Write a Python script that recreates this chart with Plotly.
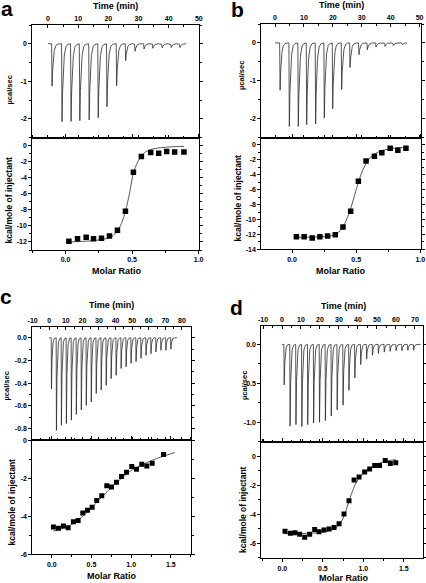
import numpy as np
import plotly.graph_objects as go

W, H = 426, 583

# ---------------- data ----------------
# Panel a
a_inj_time = [1.2, 4.5, 7.5, 10.4, 13.5, 16.5, 19.4, 22.6, 25.6, 28.7, 31.7, 34.6, 37.7, 40.7, 43.6]
a_inj_peak = [-1.13, -2.08, -2.07, -2.05, -2.03, -1.97, -1.68, -1.12, -0.45, -0.2, -0.14, -0.12, -0.11, -0.1, -0.1]
a_ratio = [0.025, 0.09, 0.155, 0.21, 0.27, 0.33, 0.39, 0.45, 0.51, 0.57, 0.64, 0.70, 0.76, 0.82, 0.89]
a_heat = [-11.9, -11.6, -11.4, -11.6, -11.55, -11.25, -10.55, -8.17, -3.33, -1.38, -0.88, -0.96, -0.75, -0.79, -0.79]
a_fit_ratio = [0.02, 0.1, 0.2, 0.3, 0.35, 0.39, 0.42, 0.45, 0.48, 0.51, 0.54, 0.57, 0.6, 0.65, 0.7, 0.8, 0.89]
a_fit_heat = [-12.0, -11.95, -11.85, -11.6, -11.3, -10.6, -9.7, -8.2, -6.0, -3.4, -2.1, -1.3, -0.8, -0.45, -0.3, -0.15, -0.1]

# Panel b
b_inj_time = [1.6, 4.8, 7.9, 10.8, 13.9, 16.9, 19.8, 22.9, 25.8, 28.9, 31.8, 34.8, 37.9, 40.8, 43.9]
b_inj_peak = [-1.25, -2.21, -2.21, -2.16, -2.14, -1.98, -1.74, -1.23, -0.65, -0.31, -0.18, -0.11, -0.09, -0.07, -0.05]
b_ratio = [0.034, 0.094, 0.157, 0.217, 0.277, 0.337, 0.397, 0.457, 0.517, 0.577, 0.642, 0.70, 0.765, 0.825, 0.888]
b_heat = [-12.3, -12.3, -12.48, -12.3, -12.2, -12.04, -11.0, -8.9, -4.86, -2.14, -1.52, -1.03, -0.45, -0.71, -0.45]
b_fit_ratio = [0.02, 0.1, 0.2, 0.3, 0.35, 0.4, 0.45, 0.5, 0.55, 0.6, 0.65, 0.7, 0.8, 0.89]
b_fit_heat = [-12.4, -12.38, -12.35, -12.2, -11.9, -10.9, -8.9, -6.0, -3.4, -1.9, -1.15, -0.75, -0.42, -0.3]

# Panel c
c_inj_time = [1.2, 4.2, 7.2, 10.2, 13.2, 16.2, 19.2, 22.2, 25.2, 28.2, 31.2, 34.2, 37.2,
              40.2, 43.2, 46.2, 49.2, 52.2, 55.2, 58.2, 61.2, 64.2, 67.2, 70.2, 73.2]
c_inj_peak = [-0.45, -0.815, -0.77, -0.755, -0.725, -0.675, -0.635, -0.595, -0.565, -0.49, -0.46, -0.42, -0.36,
              -0.33, -0.27, -0.255, -0.225, -0.21, -0.18, -0.155, -0.14, -0.125, -0.11, -0.11, -0.10]
c_ratio = [0.021, 0.084, 0.147, 0.206, 0.273, 0.332, 0.391, 0.45, 0.508, 0.567, 0.63, 0.693, 0.752, 0.815,
           0.878, 0.941, 1.008, 1.067, 1.134, 1.197, 1.265, 1.408]
c_heat = [-4.57, -4.64, -4.52, -4.61, -4.30, -4.23, -3.83, -3.69, -3.53, -3.18, -2.92, -2.40, -2.47, -2.21,
          -1.91, -1.69, -1.39, -1.53, -1.27, -1.36, -1.22, -0.75]
c_fit_ratio = [0.02, 0.1, 0.2, 0.3, 0.4, 0.5, 0.6, 0.7, 0.8, 0.9, 1.0, 1.1, 1.2, 1.3, 1.4, 1.55]
c_fit_heat = [-4.78, -4.7, -4.55, -4.32, -3.97, -3.57, -3.12, -2.7, -2.3, -1.93, -1.6, -1.38, -1.18, -1.0, -0.85, -0.65]

# Panel d
d_inj_time = [1.0, 4.1, 7.2, 10.3, 13.4, 16.5, 19.6, 22.7, 25.8, 28.9, 32.0, 35.1, 38.2, 41.3, 44.4, 47.5,
              50.6, 53.7, 56.8, 59.9, 63.0, 66.1, 69.2]
d_inj_peak = [-0.52, -1.05, -1.03, -1.055, -1.03, -1.01, -1.0, -0.98, -0.92, -0.84, -0.78, -0.59, -0.43,
              -0.26, -0.19, -0.14, -0.115, -0.10, -0.09, -0.08, -0.08, -0.075, -0.075]
d_ratio = [0.033, 0.099, 0.156, 0.214, 0.276, 0.337, 0.399, 0.453, 0.514, 0.576, 0.638, 0.70, 0.761, 0.823,
           0.885, 0.947, 1.016, 1.078, 1.14, 1.2, 1.27, 1.333, 1.40]
d_heat = [-5.18, -5.32, -5.28, -5.39, -5.60, -5.39, -5.07, -5.21, -5.09, -5.02, -4.93, -4.66, -3.99, -3.07,
          -1.65, -1.44, -1.1, -0.89, -0.64, -0.64, -0.30, -0.50, -0.46]
d_fit_ratio = [0.03, 0.15, 0.3, 0.45, 0.6, 0.68, 0.74, 0.78, 0.82, 0.86, 0.9, 0.95, 1.0, 1.1, 1.2, 1.3, 1.4]
d_fit_heat = [-5.35, -5.35, -5.33, -5.28, -5.12, -4.88, -4.4, -3.85, -3.15, -2.5, -1.95, -1.5, -1.17, -0.75, -0.47, -0.32, -0.24]

# tick labels
ab_time_ticks = [0, 10, 20, 30, 40, 50]
c_time_ticks = [-10, 0, 10, 20, 30, 40, 50, 60, 70, 80]
d_time_ticks = [-10, 0, 10, 20, 30, 40, 50, 60, 70]
ab_ratio_ticks = [0.0, 0.5, 1.0]
cd_ratio_ticks = [0.0, 0.5, 1.0, 1.5]

# ---------------- layout config ----------------
panels = [
    dict(letter='a', t=a_inj_time, p=a_inj_peak, t_end=45.8, r=a_ratio, h=a_heat, fr=a_fit_ratio, fh=a_fit_heat,
         x=(32.3, 199.0), ytop=(25.0, 137.5), ybot=(137.5, 250.0),
         trange=[-5.2, 50.05], tticks=ab_time_ticks, rawrange=[-2.5, 0.5], rawticks=[0, -1, -2], rawfmt='{:.0f}', rawminor=0.5,
         mrange=[-0.25, 1.003], mticks=ab_ratio_ticks, hrange=[-13, 1], hticks=[0, -2, -4, -6, -8, -10, -12], hminor=1,
         letter_xy=(7, 8), time_xy=(115.6, 6), ucal_xy=(8.5, 90), kcal_xy=(8.5, 200), molar_xy=(116.7, 271), msize=5.5),
    dict(letter='b', t=b_inj_time, p=b_inj_peak, t_end=45.7, r=b_ratio, h=b_heat, fr=b_fit_ratio, fh=b_fit_heat,
         x=(261.3, 420.7), ytop=(24.0, 137.5), ybot=(137.5, 249.3),
         trange=[-4.75, 50.4], tticks=ab_time_ticks, rawrange=[-2.5, 0.5], rawticks=[0, -1, -2], rawfmt='{:.0f}', rawminor=0.5,
         mrange=[-0.24, 1.003], mticks=ab_ratio_ticks, hrange=[-14, 1], hticks=[0, -2, -4, -6, -8, -10, -12, -14], hminor=1,
         letter_xy=(237, 9), time_xy=(341, 5), ucal_xy=(241, 75), kcal_xy=(237.5, 198), molar_xy=(341, 271), msize=5.5),
    dict(letter='c', t=c_inj_time, p=c_inj_peak, t_end=77.0, r=c_ratio, h=c_heat, fr=c_fit_ratio, fh=c_fit_heat,
         x=(32.3, 190.7), ytop=(327.0, 440.0), ybot=(440.0, 554.3),
         trange=[-10.2, 85.3], tticks=c_time_ticks, rawrange=[-0.9, 0.095], rawticks=[0.0, -0.2, -0.4, -0.6, -0.8], rawfmt='{:.1f}', rawminor=0.1,
         mrange=[-0.245, 1.75], mticks=cd_ratio_ticks, hrange=[-6.01, 0.01], hticks=[0, -2, -4, -6], hminor=1,
         letter_xy=(6, 296), time_xy=(111.7, 305), ucal_xy=(5.5, 386), kcal_xy=(11.5, 502), molar_xy=(111.7, 576), msize=5),
    dict(letter='d', t=d_inj_time, p=d_inj_peak, t_end=73.0, r=d_ratio, h=d_heat, fr=d_fit_ratio, fh=d_fit_heat,
         x=(261.3, 423.3), ytop=(325.7, 441.7), ybot=(441.7, 558.3),
         trange=[-10.9, 74.4], tticks=d_time_ticks, rawrange=[-1.25, 0.24], rawticks=[0.0, -0.5, -1.0], rawfmt='{:.1f}', rawminor=0.25,
         mrange=[-0.26, 1.74], mticks=cd_ratio_ticks, hrange=[-7.05, 1], hticks=[0, -2, -4, -6], hminor=1,
         letter_xy=(236.5, 307), time_xy=(343, 305.5), ucal_xy=(244, 386), kcal_xy=(243, 510), molar_xy=(343.5, 578), msize=5),
]

FONT = 'Liberation Sans, Arial, sans-serif'


def raw_curve(times, peaks, t_end, rise=0.15, tau=0.4):
    t = np.arange(0.0, t_end, 0.01)
    y = np.zeros_like(t)
    for t0, hgt in zip(times, peaks):
        dt = t - t0
        seg_r = (dt >= 0) & (dt < rise)
        y[seg_r] += hgt * dt[seg_r] / rise
        seg_d = dt >= rise
        y[seg_d] += hgt * np.exp(-(dt[seg_d] - rise) / tau)
    return t, y


def fmt_ticks(vals, fmt):
    return [fmt.format(v) for v in vals]


def xd(x0, x1):
    return [x0 / W, x1 / W]


def yd(y0, y1):
    return [1 - y1 / H, 1 - y0 / H]


fig = go.Figure()
layout = {}
annotations = []

tickfont = dict(family=FONT, size=7, color='black', weight='bold')

for i, P in enumerate(panels):
    nt = 2 * i + 1
    nb = 2 * i + 2
    xt, yt = f'x{nt}', f'y{nt}'
    xb, yb = f'x{nb}', f'y{nb}'

    tt, yy = raw_curve(P['t'], P['p'], P['t_end'])
    fig.add_trace(go.Scatter(x=tt, y=yy, mode='lines', line=dict(color='#2a2a2a', width=0.8),
                             xaxis=xt, yaxis=yt, showlegend=False, hoverinfo='skip'))
    fig.add_trace(go.Scatter(x=P['fr'], y=P['fh'], mode='lines', line=dict(color='#555555', width=1, shape='spline', smoothing=0.7),
                             xaxis=xb, yaxis=yb, showlegend=False, hoverinfo='skip'))
    fig.add_trace(go.Scatter(x=P['r'], y=P['h'], mode='markers', marker=dict(symbol='square', size=P['msize'], color='black'),
                             xaxis=xb, yaxis=yb, showlegend=False, hoverinfo='skip'))

    common = dict(showline=True, linecolor='black', linewidth=1, mirror='ticks', showgrid=False, zeroline=False,
                  tickcolor='black', tickwidth=1, tickfont=tickfont, automargin=False)

    tstep = P['tticks'][1] - P['tticks'][0]
    layout[f'xaxis{nt}'] = dict(common, domain=xd(*P['x']), anchor=yt, side='top', range=P['trange'],
                                ticks='inside', ticklen=3, tickvals=P['tticks'], ticktext=fmt_ticks(P['tticks'], '{:d}'),
                                minor=dict(ticks='inside', ticklen=2, tickcolor='black', dtick=tstep / 2, tick0=0, showgrid=False))
    layout[f'yaxis{nt}'] = dict(common, domain=yd(*P['ytop']), anchor=xt, range=P['rawrange'],
                                ticks='outside', ticklen=3, tickvals=P['rawticks'], ticktext=fmt_ticks(P['rawticks'], P['rawfmt']),
                                minor=dict(ticks='outside', ticklen=2, tickcolor='black', dtick=P['rawminor'], tick0=0, showgrid=False))
    layout[f'xaxis{nb}'] = dict(common, domain=xd(*P['x']), anchor=yb, range=P['mrange'],
                                ticks='outside', ticklen=3, tickvals=P['mticks'], ticktext=fmt_ticks(P['mticks'], '{:.1f}'),
                                minor=dict(ticks='outside', ticklen=2, tickcolor='black', dtick=0.25, tick0=0, showgrid=False))
    layout[f'yaxis{nb}'] = dict(common, domain=yd(*P['ybot']), anchor=xb, range=P['hrange'],
                                ticks='outside', ticklen=3, tickvals=P['hticks'], ticktext=fmt_ticks(P['hticks'], '{:d}'),
                                minor=dict(ticks='outside', ticklen=2, tickcolor='black', dtick=P['hminor'], tick0=0, showgrid=False))

    def ann(text, xy, size, angle=0):
        annotations.append(dict(text=text, x=xy[0] / W, y=1 - xy[1] / H, xref='paper', yref='paper',
                                xanchor='center', yanchor='middle', showarrow=False, textangle=angle,
                                font=dict(family=FONT, size=size, color='black', weight='bold')))

    ann(P['letter'], P['letter_xy'], 21)
    ann('Time (min)', P['time_xy'], 9)
    ann('\u00b5cal/sec', P['ucal_xy'], 7.5, -90)
    ann('kcal/mole of injectant', P['kcal_xy'], 8.5, -90)
    ann('Molar Ratio', P['molar_xy'], 9)

fig.update_layout(**layout)
fig.update_layout(width=W, height=H, margin=dict(l=0, r=0, t=0, b=0, autoexpand=False),
                  paper_bgcolor='white', plot_bgcolor='white',
                  annotations=annotations, showlegend=False)

fig.write_html('out.html', config={'displayModeBar': False},
               post_script="document.body.style.margin='0';document.body.style.padding='0';"
                           "document.body.style.overflow='hidden';")
